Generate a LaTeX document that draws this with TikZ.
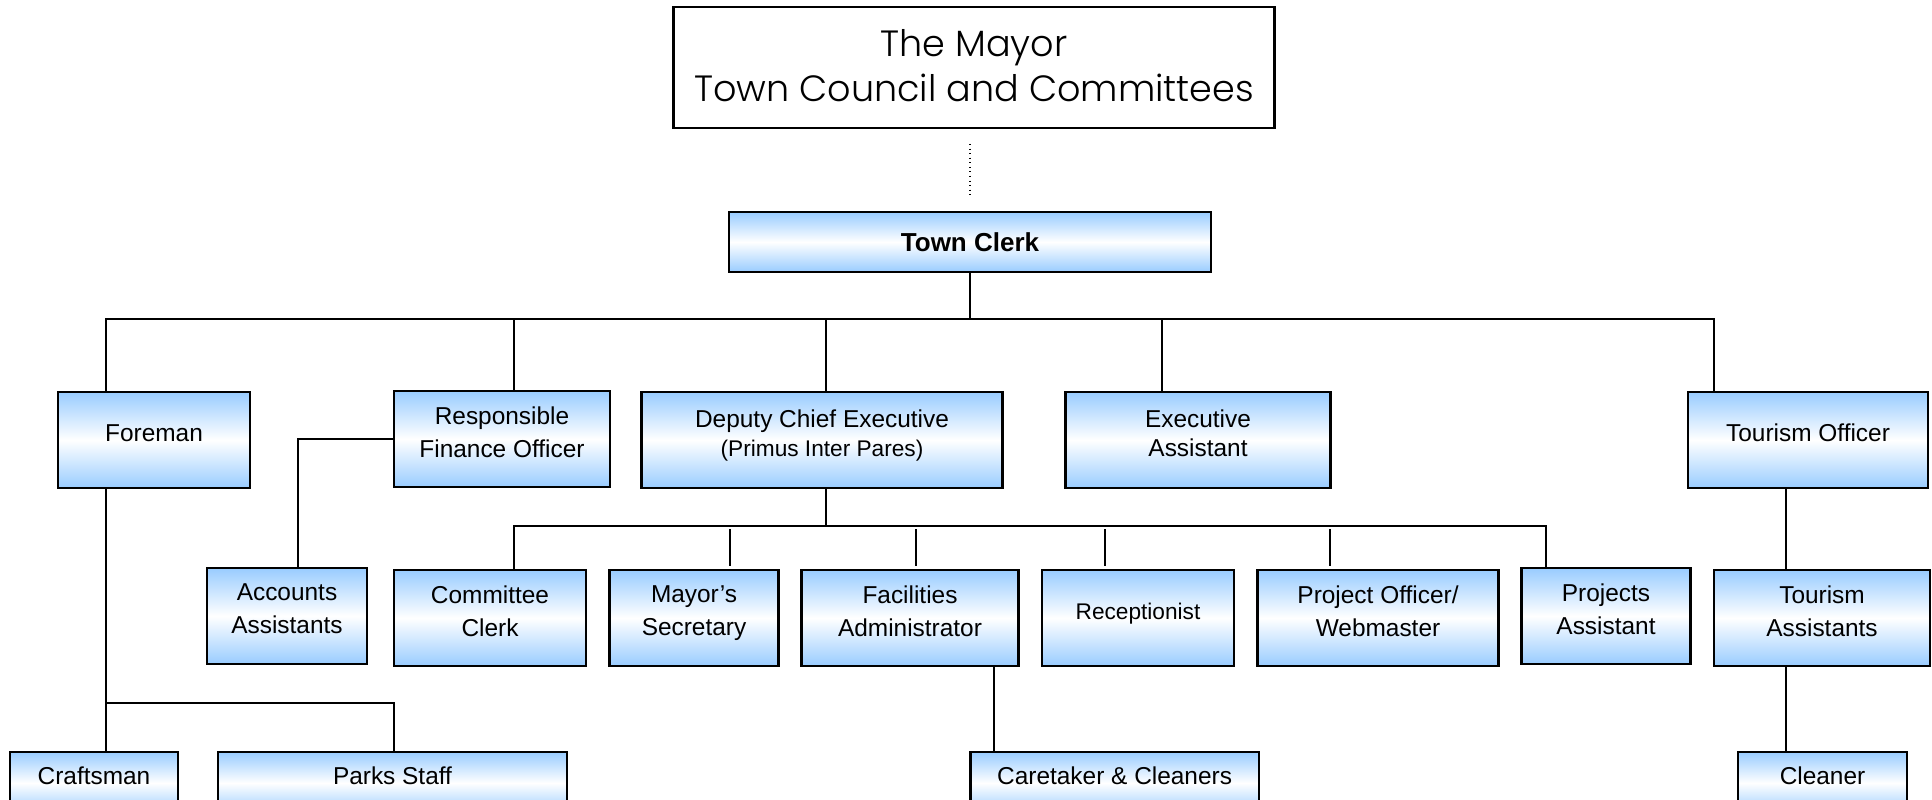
\documentclass[tikz,border=0pt]{standalone}
\usepackage{fontspec}
\setmainfont{Liberation Sans}
\newfontfamily\mayorfont{Poppins}[UprightFont=* Light]
\usepackage{tikz}
\definecolor{boxblue}{RGB}{153,204,255}

\begin{document}
\begin{tikzpicture}[
                    x=0.02cm,
                    y=-0.02cm,
                    font=\fontsize{13.9}{18.8}\selectfont
                ]
                \tikzstyle{post}=[
                    draw=black,
                    line width=1.4pt,
                    top color=boxblue,
                    bottom color=boxblue,
                    middle color=white,
                    align=center,
                    inner sep=0pt,
                    text depth=0.28cm,
                    minimum height=1.92cm
                ]
                \tikzstyle{link}=[draw=black, line width=1.1pt]
                \tikzstyle{tap}=[draw=black, line width=0.9pt]
                \tikzstyle{small}=[font=\fontsize{12.9}{17}\selectfont]

                \clip (0,0) rectangle (1932,799);

                % council and clerk
                \node[draw, line width=1.4pt, fill=white, align=center,
                      minimum width=12.02cm, minimum height=2.41cm, text depth=0.07cm,
                      font=\mayorfont\fontsize{20.8}{25.5}\selectfont]
                      (mayor) at (974,67.5) {The Mayor\\Town Council and Committees};
                \node[post, minimum width=9.64cm, minimum height=1.2cm, text depth=0pt,
                      font=\bfseries\fontsize{14.8}{18}\selectfont]
                      (clerk) at (970,242) {Town Clerk};

                % first row
                \node[post, minimum width=3.84cm] (foreman) at (154,440) {Foreman};
                \node[post, minimum width=4.32cm] (rfo) at (502,439) {Responsible\\Finance Officer};
                \node[post, minimum width=7.22cm] (dce) at (822,440) {Deputy Chief Executive\\[-2.5pt]{\fontsize{12.9}{17}\selectfont(Primus Inter Pares)}};
                \node[post, minimum width=5.30cm] (ea) at (1198,440) {Executive\\[-2pt]Assistant};
                \node[post, minimum width=4.81cm] (tourism) at (1808,440) {Tourism Officer};

                % second row
                \node[post, minimum width=3.19cm] (accts) at (287,616) {Accounts\\Assistants};
                \node[post, minimum width=3.84cm] (cclerk) at (490,618) {Committee\\Clerk};
                \node[post, minimum width=3.38cm] (msec) at (694,618) {Mayor’s\\Secretary};
                \node[post, minimum width=4.34cm] (facil) at (910,618) {Facilities\\Administrator};
                \node[post, small, minimum width=3.84cm] (recep) at (1138,618) {Receptionist};
                \node[post, minimum width=4.82cm] (pow) at (1378,618) {Project Officer/\\Webmaster};
                \node[post, minimum width=3.38cm] (passt) at (1606,616) {Projects\\Assistant};
                \node[post, minimum width=4.32cm] (tassts) at (1822,618) {Tourism\\Assistants};

                % third row
                \node[post, minimum width=3.36cm, minimum height=1.24cm] (craft) at (94,783) {Craftsman};
                \node[post, minimum width=6.98cm, minimum height=1.24cm] (parks) at (392.5,783) {Parks Staff};
                \node[post, minimum width=5.77cm, minimum height=1.24cm] (caretaker) at (1114.6,783) {Caretaker \& Cleaners};
                \node[post, minimum width=3.38cm, minimum height=1.24cm] (cleaner) at (1822.5,783) {Cleaner};

                % bus under the clerk
                \coordinate (tf) at (106,319);
                \coordinate (tr) at (514,319);
                \coordinate (tc) at (970,319);
                \coordinate (td) at (826,319);
                \coordinate (te) at (1162,319);
                \coordinate (tt) at (1714,319);

                \draw[dotted, line width=0.6pt, shorten <=0.3cm, shorten >=0.3cm]
                    (clerk.north |- mayor.south) -- (clerk.north);
                \draw[link] (clerk.south) -- (tc);
                \draw[link] (tf |- foreman.north) -- (tf) -- (tt) -- (tt |- tourism.north);
                \foreach \t/\n in {tr/rfo, td/dce, te/ea}
                    \draw[link] (\t) -- (\t |- \n.north);

                % bus under the deputy
                \coordinate (sd) at (826,526);
                \coordinate (sc) at (514,526);
                \coordinate (sp) at (1546,526);
                \draw[tap] (dce.south -| sd) -- (sd);
                \draw[tap] (sc |- cclerk.north) -- (sc) -- (sp) -- (sp |- passt.north);
                \foreach \x/\n in {730/msec, 916/facil, 1105/recep, 1330/pow} {
                    \coordinate (k) at (\x,526);
                    \draw[tap, shorten <=0.06cm, shorten >=0.06cm] (k) -- (k |- \n.north);
                }

                % side branches
                \coordinate (ka) at (298,0);
                \draw[link] (rfo.west) -| (ka |- accts.north);
                \coordinate (kf) at (106,703);
                \coordinate (kp) at (394,0);
                \draw[link] (kf |- foreman.south) -- (kf |- craft.north);
                \draw[link] (kf) -| (kp |- parks.north);
                \coordinate (kc) at (994,0);
                \draw[tap] (kc |- facil.south) -- (kc |- caretaker.north);
                \coordinate (kt) at (1786,0);
                \draw[link] (kt |- tourism.south) -- (kt |- tassts.north);
                \draw[link] (kt |- tassts.south) -- (kt |- cleaner.north);
\end{tikzpicture}
\end{document}
